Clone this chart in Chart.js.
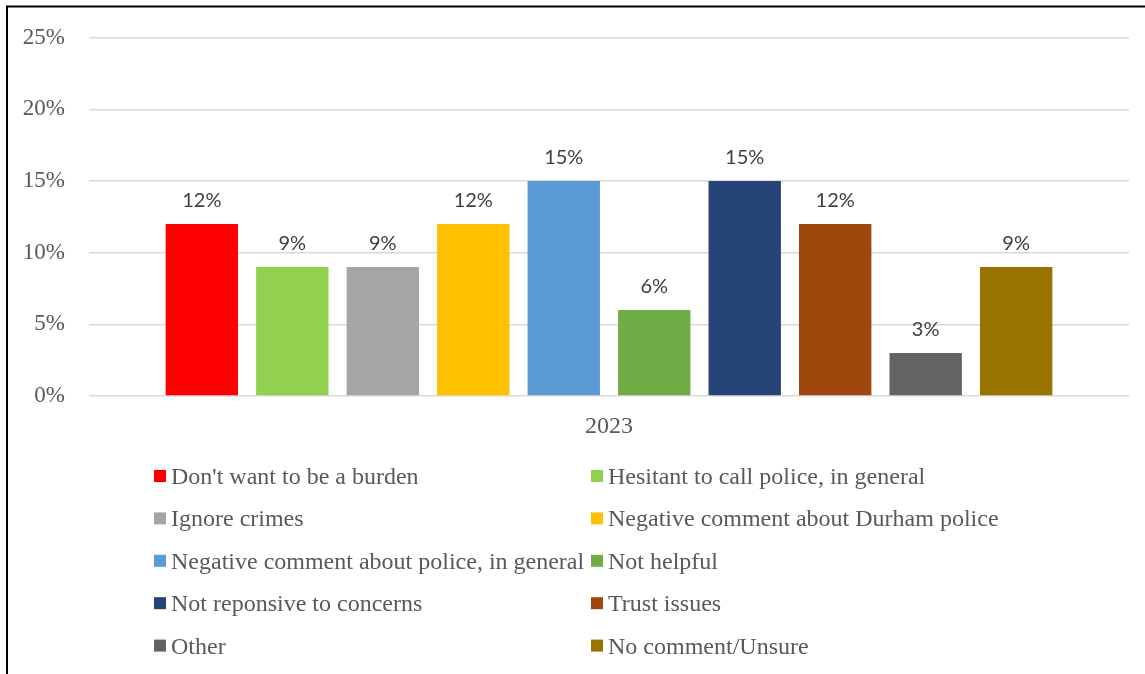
<!DOCTYPE html>
<html><head><meta charset="utf-8">
<script src="https://cdn.jsdelivr.net/npm/chart.js@4.4.0/dist/chart.umd.min.js"></script>
<style>html,body{margin:0;padding:0;background:#fff;overflow:hidden}</style>
</head><body>
<canvas id="c" width="1145" height="674"></canvas>
<script>
const categories = ['2023'];
const seriesNames = [
  "Don't want to be a burden",
  "Hesitant to call police, in general",
  "Ignore crimes",
  "Negative comment about Durham police",
  "Negative comment about police, in general",
  "Not helpful",
  "Not reponsive to concerns",
  "Trust issues",
  "Other",
  "No comment/Unsure"
];
const seriesValues = [12, 9, 9, 12, 15, 6, 15, 12, 3, 9];
const seriesColors = ['#FF0000','#92D050','#A5A5A5','#FFC000','#5B9BD5','#70AD47','#264478','#9E480E','#636363','#997300'];
const yMax = 25;
const yStep = 5;

const datasets = seriesNames.map((name, i) => ({
  label: name,
  data: [seriesValues[i]],
  backgroundColor: seriesColors[i],
  borderWidth: 0,
  categoryPercentage: 0.87,
  barPercentage: 0.8
}));

const framePlugin = {
  id: 'frame',
  beforeDraw(chart) {
    const ctx = chart.ctx;
    ctx.save();
    ctx.fillStyle = '#fff';
    ctx.fillRect(0, 0, chart.width, chart.height);
    ctx.restore();
  },
  afterDraw(chart) {
    const ctx = chart.ctx;
    ctx.save();
    ctx.strokeStyle = '#000';
    ctx.lineWidth = 2;
    ctx.beginPath();
    ctx.moveTo(7, 674);
    ctx.lineTo(7, 6.5);
    ctx.lineTo(1145, 6.5);
    ctx.stroke();
    ctx.restore();
  }
};

const labelPlugin = {
  id: 'barLabels',
  afterDatasetsDraw(chart) {
    const ctx = chart.ctx;
    ctx.save();
    ctx.font = '20px Lato';
    ctx.fillStyle = '#404040';
    ctx.textAlign = 'center';
    ctx.textBaseline = 'alphabetic';
    chart.data.datasets.forEach((ds, i) => {
      const meta = chart.getDatasetMeta(i);
      meta.data.forEach((bar, j) => {
        ctx.fillText(ds.data[j] + '%', bar.x, bar.y - 17);
      });
    });
    ctx.restore();
  }
};

const legendPlugin = {
  id: 'gridLegend',
  afterDraw(chart) {
    const ctx = chart.ctx;
    ctx.save();
    ctx.font = '24px "Liberation Serif"';
    ctx.textBaseline = 'alphabetic';
    ctx.textAlign = 'left';
    const colX = [154, 591];
    const rowY0 = 476, rowGap = 42.4, box = 12;
    chart.data.datasets.forEach((ds, i) => {
      const col = i % 2, row = Math.floor(i / 2);
      const x = colX[col], y = rowY0 + row * rowGap;
      ctx.fillStyle = ds.backgroundColor;
      ctx.fillRect(x, y - box / 2, box, box);
      ctx.fillStyle = '#595959';
      ctx.fillText(ds.label, x + 17, y + 8);
    });
    ctx.restore();
  }
};

new Chart(document.getElementById('c'), {
  type: 'bar',
  data: { labels: categories, datasets },
  options: {
    responsive: false,
    animation: false,
    devicePixelRatio: 1,
    layout: { padding: { top: 35, right: 16, bottom: 224, left: 0 } },
    plugins: { legend: { display: false }, tooltip: { enabled: false } },
    scales: {
      x: {
        grid: { display: false },
        border: { display: false },
        ticks: { color: '#595959', font: { family: 'Liberation Serif', size: 24 }, padding: 8 },
        afterFit(s) { s.height = 54; }
      },
      y: {
        min: 0, max: yMax,
        grid: { color: '#d9d9d9', lineWidth: 1.5, drawTicks: false },
        border: { display: false },
        ticks: {
          stepSize: yStep,
          color: '#595959',
          font: { family: 'Liberation Serif', size: 23 },
          padding: 24,
          callback: v => v + '%'
        },
        afterFit(s) { s.width = 89; }
      }
    }
  },
  plugins: [framePlugin, labelPlugin, legendPlugin]
});
</script>
</body></html>
